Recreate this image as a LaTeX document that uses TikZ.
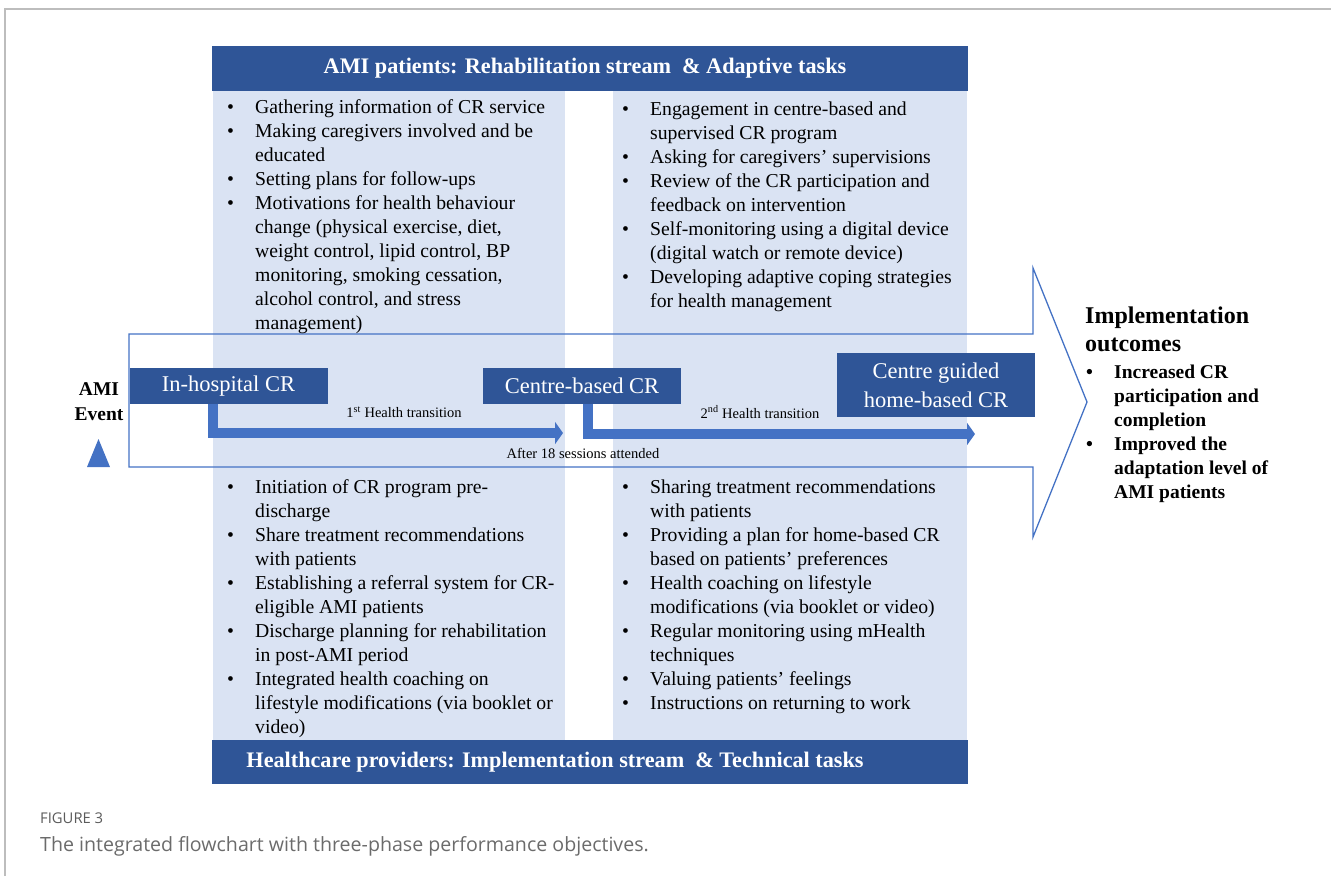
\documentclass[tikz,border=0pt]{standalone}
\usepackage{fontspec}
\setmainfont{Liberation Serif}
\newfontfamily\capsans{Open Sans}
\usetikzlibrary{arrows.meta,calc}

\definecolor{bannerblue}{HTML}{2F5597}
\definecolor{panelblue}{HTML}{DAE3F3}
\definecolor{flowblue}{HTML}{4472C4}
\definecolor{framegray}{HTML}{BDBDBD}
\definecolor{captiongray}{HTML}{6B6B6B}

% bullet and continuation indent for the task lists
\newcommand{\bul}{\makebox[28pt][l]{\textbullet}}
\newcommand{\ind}{\hspace*{28pt}}

\begin{document}
\begin{tikzpicture}[x=1pt,y=-1pt,
  banner/.style={fill=bannerblue, draw=none},
  bannertext/.style={text=white, font=\fontsize{22.2}{26}\selectfont\bfseries, inner sep=0},
  panel/.style={fill=panelblue, draw=none},
  stage/.style={fill=bannerblue, text=white, font=\fontsize{22.5}{29}\selectfont,
    inner sep=0, align=center, minimum width=198pt},
  listtext/.style={font=\fontsize{19.7}{24}\selectfont, align=left, inner sep=0, anchor=north west},
  outtext/.style={font=\bfseries\fontsize{19.5}{24}\selectfont, align=left, inner sep=0, anchor=north west},
  smalllabel/.style={font=\fontsize{14.5}{17}\selectfont, inner sep=0},
  flow/.style={draw=flowblue, line width=10pt, -{Triangle[length=8pt,width=22pt]}},
  outline/.style={draw=flowblue, line width=1.3pt, line join=miter}
]
\useasboundingbox (0,0) rectangle (1331,876);

% page frame
\draw[framegray, line width=1.5pt] (5,876) -- (5,9) -- (1331,9);

% two phase panels and the stream banners
\fill[panel] (213,91) rectangle (565,740);
\fill[panel] (613,91) rectangle (967,740);
\fill[banner] (212,46) rectangle (968,91);
\fill[banner] (212,740) rectangle (968,784);
\node[bannertext] (toptitle) at (585,68) {AMI patients: Rehabilitation stream\ \ \& Adaptive tasks};
\node[bannertext] (bottitle) at (555,762) {Healthcare providers: Implementation stream\ \ \& Technical tasks};

% large outline arrow towards the outcomes
\coordinate (ba1) at (129,334);
\coordinate (ba2) at (1033,334);
\coordinate (ba3) at (1033,268);
\coordinate (ba4) at (1087,402);
\coordinate (ba5) at (1033,537);
\coordinate (ba6) at (1033,467);
\coordinate (ba7) at (129,467);
\draw[outline] (ba1) -- (ba2) -- (ba3) -- (ba4) -- (ba5) -- (ba6) -- (ba7) -- cycle;

% stages
\node[stage, minimum height=36pt] (inhosp) at (228.5,386) {In-hospital CR};
\node[stage, minimum height=36pt] (cbased) at (582,386) {Centre-based CR};
\node[stage, minimum height=64pt] (chome) at (936,385) {Centre guided\\home-based CR};

% health transitions
\coordinate (t1) at (563,433);
\coordinate (t2) at (975,434);
\draw[flow] ([xshift=84pt]inhosp.south west) |- (t1);
\draw[flow] ([xshift=105.5pt]cbased.south west) |- (t2);
\node[smalllabel] (tr1) at (404,412) {1\textsuperscript{st} Health transition};
\node[smalllabel] (tr2) at (760,412) {2\textsuperscript{nd} Health transition};
\node[smalllabel] (after) at (583,453) {After 18 sessions attended};

% AMI event
\node[font=\bfseries\fontsize{19.5}{25}\selectfont, align=center, inner sep=0] (ami) at (99,402) {AMI\\Event};
\fill[flowblue] (87,467) -- (110,467) -- (98.5,439) -- cycle;

% adaptive tasks (patients)
\node[listtext] (patin) at (227,96.7) {\strut\bul Gathering information of CR service\\
\bul Making caregivers involved and be\\
\ind educated\\
\bul Setting plans for follow-ups\\
\bul Motivations for health behaviour\\
\ind change (physical exercise, diet,\\
\ind weight control, lipid control, BP\\
\ind monitoring, smoking cessation,\\
\ind alcohol control, and stress\\
\ind management)};

\node[listtext] (patcentre) at (622,98.7) {\strut\bul Engagement in centre-based and\\
\ind supervised CR program\\
\bul Asking for caregivers’ supervisions\\
\bul Review of the CR participation and\\
\ind feedback on intervention\\
\bul Self-monitoring using a digital device\\
\ind (digital watch or remote device)\\
\bul Developing adaptive coping strategies\\
\ind for health management};

% technical tasks (providers)
\node[listtext] (provin) at (227,476.7) {\strut\bul Initiation of CR program pre-\\
\ind discharge\\
\bul Share treatment recommendations\\
\ind with patients\\
\bul Establishing a referral system for CR-\\
\ind eligible AMI patients\\
\bul Discharge planning for rehabilitation\\
\ind in post-AMI period\\
\bul Integrated health coaching on\\
\ind lifestyle modifications (via booklet or\\
\ind video)};

\node[listtext] (provcentre) at (622,476.7) {\strut\bul Sharing treatment recommendations\\
\ind with patients\\
\bul Providing a plan for home-based CR\\
\ind based on patients’ preferences\\
\bul Health coaching on lifestyle\\
\ind modifications (via booklet or video)\\
\bul Regular monitoring using mHealth\\
\ind techniques\\
\bul Valuing patients' feelings\\
\bul Instructions on returning to work};

% implementation outcomes
\node[font=\bfseries\fontsize{24}{28}\selectfont, align=left, inner sep=0, anchor=north west]
  (outhead) at (1085,303.4) {\strut Implementation\\outcomes};
\node[outtext] (outlist) at (1086,361.7) {\strut\bul Increased CR\\
\ind participation and\\
\ind completion\\
\bul Improved the\\
\ind adaptation level of\\
\ind AMI patients};

% caption
\node[anchor=base west, inner sep=0, font=\capsans\fontsize{14.8}{17}\selectfont, text=captiongray!85!black] (figlabel) at (40,823.5) {FIGURE 3};
\node[anchor=base west, inner sep=0, font=\capsans\fontsize{19.6}{23}\selectfont, text=captiongray] (caption) at (40,851) {The integrated flowchart with three-phase performance objectives.};
\end{tikzpicture}
\end{document}
